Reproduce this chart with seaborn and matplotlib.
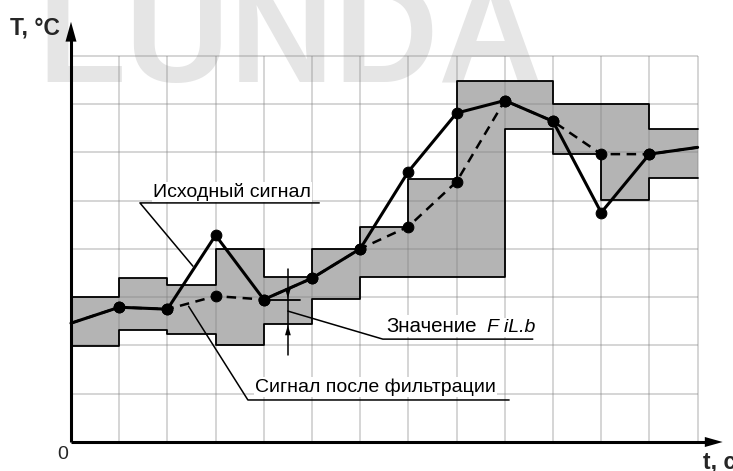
import numpy as np
import pandas as pd
import matplotlib
matplotlib.use("Agg")
import matplotlib.pyplot as plt
import seaborn as sns

# time steps (grid cells) and signal values (grid units)
t = list(range(14))
source_signal = [2.46, 2.79, 2.75, 4.28, 2.95, 3.39, 4.00, 5.60, 6.81, 7.07, 6.64, 4.75, 5.96, 6.10]
filtered_signal = [2.46, 2.79, 2.75, 3.02, 2.95, 3.39, 4.00, 4.46, 5.39, 7.07, 6.64, 5.96, 5.96, 6.10]

# filter window per time step (lower / upper edge of the grey band)
band_lower = [1.99, 2.32, 2.23, 2.00, 2.44, 2.97, 3.42, 3.42, 3.42, 6.47, 5.97, 5.01, 5.47]
band_upper = [3.00, 3.40, 3.26, 4.00, 3.42, 3.99, 4.45, 5.44, 7.48, 7.48, 7.00, 7.00, 6.48]

label_source = "Исходный сигнал"
label_filtered = "Сигнал после фильтрации"
label_value = "Значение"
label_param = "F iL.b"
axis_y_label = "T, °C"
axis_x_label = "t, c"
origin_label = "0"
watermark = "LUNDA"

sns.set_style("white")
plt.rcParams["font.family"] = ["Liberation Sans", "DejaVu Sans"]

W, H = 733, 471
PX_X, PX_Y = 48.2, 48.3          # pixels per grid cell
X0, Y0 = 71, 442                 # origin position in pixels

fig = plt.figure(figsize=(W / 100, H / 100), dpi=100)
ax = fig.add_axes([0, 0, 1, 1])

n_cols, n_rows = 13, 8

# faint watermark behind everything
ax.text(4.54, 7.45, watermark, ha="center", va="baseline", fontsize=104,
        fontweight="bold", color="#e5e5e5", zorder=0)

# grey filter band
x_steps = np.array(t, dtype=float)
lo = np.array(band_lower + [band_lower[-1]])
hi = np.array(band_upper + [band_upper[-1]])
ax.fill_between(x_steps, lo, hi, step="post", color="#b4b4b4", lw=0, zorder=1)

# grid
ax.vlines(range(1, n_cols + 1), 0, n_rows, color="#808080", alpha=0.42, lw=1.1, zorder=2)
ax.hlines(range(1, n_rows + 1), 0, n_cols, color="#808080", alpha=0.42, lw=1.1, zorder=2)

# band outline
ax.step(x_steps, lo, where="post", color="black", lw=1.3, zorder=3)
ax.step(x_steps, hi, where="post", color="black", lw=1.3, zorder=3)

# signals
df = pd.DataFrame({"t": t, "source": source_signal, "filtered": filtered_signal})
inner = list(range(1, 13))
sns.lineplot(data=df, x="t", y="filtered", ax=ax, color="black", lw=1.8,
             linestyle=(0, (3.8, 2.6)), marker="o", markersize=7.7,
             markevery=inner, mfc="black", mec="black", zorder=4)
sns.lineplot(data=df, x="t", y="source", ax=ax, color="black", lw=2.2,
             marker="o", markersize=7.7, markevery=inner,
             mfc="black", mec="black", zorder=5)
ax.set_xlim(-X0 / PX_X, (W - X0) / PX_X)
ax.set_ylim(-(H - Y0) / PX_Y, Y0 / PX_Y)
ax.axis("off")

# axes with arrowheads
ax.plot([0, 13.2], [0, 0], color="black", lw=2.2, solid_capstyle="butt", zorder=6)
ax.plot([0, 0], [0, 8.35], color="black", lw=2.2, solid_capstyle="butt", zorder=6)
ax.fill([13.15, 13.52, 13.15], [0.104, 0, -0.104], color="black", lw=0, zorder=6)
ax.fill([-0.114, 0, 0.114], [8.29, 8.70, 8.29], color="black", lw=0, zorder=6)

# reference level and dimension of the filter parameter
ax.plot([4, 4.75], [2.95, 2.95], color="black", lw=1.3, zorder=4)
ax.plot([4.5, 4.5], [1.80, 3.58], color="black", lw=1.1, zorder=4)
ax.fill([4.44, 4.5, 4.56], [3.18, 2.97, 3.18], color="black", lw=0, zorder=4)
ax.fill([4.44, 4.5, 4.56], [2.21, 2.42, 2.21], color="black", lw=0, zorder=4)

txt_kw = dict(fontsize=14, color="black", va="baseline", zorder=7,
              bbox=dict(facecolor="white", edgecolor="none", pad=1.0))
leader_kw = dict(color="black", lw=1.1, zorder=7)

# source signal callout
ax.plot([2.53, 1.43, 5.15], [3.64, 4.95, 4.95], **leader_kw)
ax.text(1.70, 5.07, label_source, **txt_kw)

# filtered signal callout
ax.plot([2.44, 3.67, 9.09], [2.81, 0.87, 0.87], **leader_kw)
ax.text(3.82, 1.04, label_filtered, **txt_kw)

# filter parameter callout
ax.plot([4.5, 6.47, 9.58], [2.71, 2.13, 2.13], **leader_kw)
ax.text(6.54, 2.28, label_value, fontsize=14.8, color="black", va="baseline", zorder=7,
        bbox=dict(facecolor="white", edgecolor="none", pad=1.0))
ax.text(8.63, 2.28, label_param, fontstyle="italic", **txt_kw)

# axis labels
ax.text(-1.27, 8.43, axis_y_label, fontsize=16.5, fontweight="bold", va="baseline")
ax.text(13.11, -0.54, axis_x_label, fontsize=16.5, fontweight="bold", va="baseline")
ax.text(-0.17, -0.25, origin_label, fontsize=14, ha="center", va="center")

fig.savefig("out.png", dpi=100)
